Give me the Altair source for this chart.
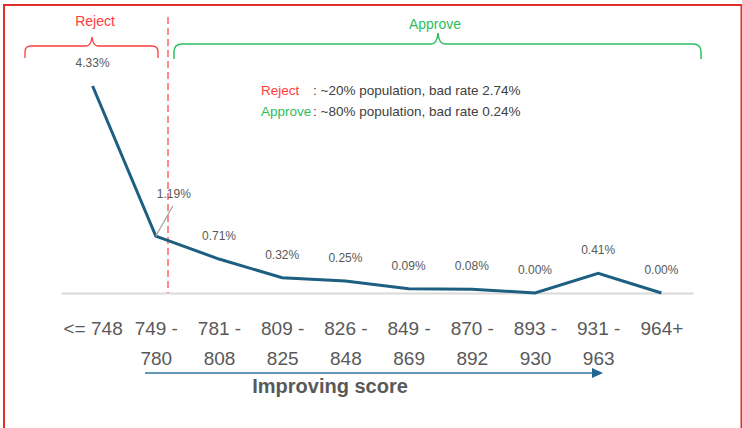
import altair as alt
import pandas as pd

# Bad rate by score band
score_bands = ["<= 748", "749 - 780", "781 - 808", "809 - 825", "826 - 848",
               "849 - 869", "870 - 892", "893 - 930", "931 - 963", "964+"]
bad_rate = [4.33, 1.19, 0.71, 0.32, 0.25, 0.09, 0.08, 0.00, 0.41, 0.00]
callout_band = "749 - 780"

reject_summary = ["Reject", ": ~20% population, bad rate 2.74%"]
approve_summary = ["Approve", ": ~80% population, bad rate 0.24%"]
axis_caption = "Improving score"

FONT = "Liberation Sans"
GREY = "#595959"
LINE = "#1D5F80"
RED = "#FF3B3B"
GREEN = "#2DBE5F"

df = pd.DataFrame({"band": score_bands, "rate": bad_rate})
df["label"] = df["rate"].map(lambda v: f"{v:.2f}%")

x_enc = alt.X(
    "band:N",
    sort=score_bands,
    scale=alt.Scale(type="point", padding=0.5),
    axis=alt.Axis(
        title=None, labelAngle=0, labelFontSize=19, labelFont=FONT,
        labelColor=GREY, labelPadding=26, labelLineHeight=30,
        ticks=False, tickSize=0, grid=False,
        domainColor="#D9D9D9", domainWidth=2,
        labelExpr="split(replace(datum.label, '- ', '-|'), '|')",
    ),
)
y_enc = alt.Y("rate:Q", scale=alt.Scale(domain=[0, 5], nice=False), axis=None)

base = alt.Chart(df).encode(x=x_enc, y=y_enc)

line = base.mark_line(color=LINE, strokeWidth=3)

labels = base.transform_filter(alt.datum.band != callout_band).mark_text(
    dy=-23, fontSize=12, font=FONT, color=GREY
).encode(text="label:N")

callout_label = base.transform_filter(alt.datum.band == callout_band).mark_text(
    dx=18, dy=-42, fontSize=12, font=FONT, color=GREY
).encode(text="label:N")

leader = base.transform_filter(alt.datum.band == callout_band).mark_rule(
    color="#A6A6A6", strokeWidth=1.2, x2Offset=17, y2Offset=-30
).encode(x2=alt.X2("band"), y2=alt.Y2("rate"))


def note(text, **kw):
    return alt.Chart(pd.DataFrame({"t": [text]})).mark_text(font=FONT, **kw).encode(text="t:N")


def single():
    return alt.Chart(pd.DataFrame({"k": [0]}))


# cut-off between reject and approve
cutoff = single().mark_rule(color=RED, strokeWidth=1.2, strokeDash=[7, 4]).encode(
    x=alt.value(107), y=alt.value(-37), y2=alt.value(239)
)

# curly brackets drawn as custom symbol paths (size 4 -> path units are pixels)
reject_brace = single().mark_point(
    shape="M -67 21 L -67 15 Q -67 9 -61 9 L -6 9 Q -1 9 0 0 Q 1 9 6 9 L 60 9 Q 66 9 66 15 L 66 21",
    size=4, filled=False, stroke=RED, strokeWidth=1.3, opacity=1,
).encode(x=alt.value(31), y=alt.value(-17))

approve_brace = single().mark_point(
    shape="M -264 26 L -264 19 Q -264 11 -256 11 L -7 11 Q -1 11 0 0 Q 1 11 7 11 L 255 11 Q 263 11 263 19 L 263 26",
    size=4, filled=False, stroke=GREEN, strokeWidth=1.5, opacity=1,
).encode(x=alt.value(377), y=alt.value(-21))

reject_title = note("Reject", fontSize=14, color=RED).encode(x=alt.value(34), y=alt.value(-32))
approve_title = note("Approve", fontSize=14, color=GREEN).encode(x=alt.value(374), y=alt.value(-29))

summary = [
    note(reject_summary[0], fontSize=13.5, color=RED, align="left").encode(x=alt.value(200), y=alt.value(37)),
    note(reject_summary[1], fontSize=13.5, color="#404040", align="left").encode(x=alt.value(252), y=alt.value(37)),
    note(approve_summary[0], fontSize=13.5, color=GREEN, align="left").encode(x=alt.value(200), y=alt.value(58)),
    note(approve_summary[1], fontSize=13.5, color="#404040", align="left").encode(x=alt.value(252), y=alt.value(58)),
]

# direction arrow under the axis
arrow_shaft = single().mark_rule(color="#3274A0", strokeWidth=1.5).encode(
    x=alt.value(84), x2=alt.value(532), y=alt.value(319)
)
arrow_head = single().mark_point(
    shape="M -5 -5 L 6 0 L -5 5 Z", size=4, filled=True, color="#1F6690", opacity=1
).encode(x=alt.value(536), y=alt.value(319))
caption = note(axis_caption, fontSize=20, fontWeight="bold", color=GREY).encode(
    x=alt.value(269), y=alt.value(333)
)

frame = single().mark_rect(filled=False, stroke="#E0302A", strokeWidth=2).encode(
    x=alt.value(-57), x2=alt.value(680.5), y=alt.value(-49), y2=alt.value(380)
)

chart = alt.layer(
    frame, cutoff, reject_brace, approve_brace, reject_title, approve_title,
    *summary, arrow_shaft, arrow_head, caption,
    line, leader, labels, callout_label,
).properties(
    width=632, height=239,
    padding={"left": 61, "top": 54, "right": 49, "bottom": 135},
    autosize=alt.AutoSizeParams(type="none"),
    background="white",
).configure_view(strokeWidth=0)

chart.save("out.html", embed_options={"renderer": "svg", "actions": False})
